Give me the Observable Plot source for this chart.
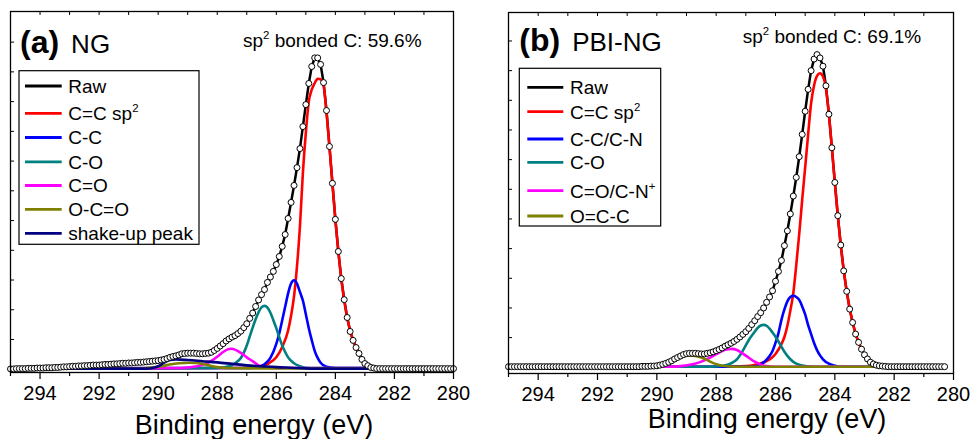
<!DOCTYPE html>
<html><head><meta charset="utf-8">
<script src="https://cdn.jsdelivr.net/npm/d3@7"></script>
<script src="https://cdn.jsdelivr.net/npm/@observablehq/plot@0.6"></script>
<style>
body{margin:0;background:#fff;}
#wrap{display:flex;width:973px;height:439px;overflow:hidden;background:#fff;}
svg text{font-family:"Liberation Sans",Arial,Helvetica,sans-serif;}
</style></head><body><div id="wrap"></div>
<script>
// ---------- shared ----------
const RAW_STEP = 0.1;
const xMajor = [294, 292, 290, 288, 286, 284, 282, 280];
const xMinor = [295, 293, 291, 289, 287, 285, 283, 281];
const xLabel = "Binding energy (eV)";

// ---------- panel (a) NG ----------
const ngTitle = ["(a)", "NG"];
const ngNote = "sp^2 bonded C: 59.6%";
const ngRawStart = 295.0;
const ngRaw = [
0.01,0.01,0.02,0.02,0.02,0.02,0.03,0.03,0.03,0.04,
0.04,0.04,0.05,0.05,0.05,0.06,0.06,0.07,0.08,0.08,
0.09,0.10,0.10,0.11,0.11,0.12,0.12,0.13,0.14,0.14,
0.14,0.15,0.16,0.16,0.17,0.18,0.18,0.19,0.20,0.20,
0.21,0.21,0.22,0.23,0.23,0.24,0.25,0.26,0.27,0.28,
0.29,0.31,0.33,0.36,0.40,0.43,0.45,0.48,0.52,0.53,
0.54,0.54,0.54,0.53,0.52,0.52,0.53,0.54,0.57,0.63,
0.70,0.78,0.86,0.95,1.02,1.08,1.13,1.20,1.28,1.40,
1.53,1.71,1.89,2.11,2.33,2.51,2.68,2.92,3.10,3.29,
3.52,3.79,4.13,4.53,5.07,5.61,6.18,6.78,7.42,8.16,
8.90,9.61,10.18,10.47,10.47,10.25,9.64,8.70,7.49,6.25,
5.04,3.96,3.05,2.34,1.74,1.27,0.97,0.73,0.53,0.33,
0.19,0.12,0.06,0.04,0.02,0.02,0.02,0.02,0.02,0.02,
0.02,0.02,0.02,0.02,0.02,0.02,0.02,0.02,0.02,0.02,
0.02,0.02,0.02,0.02,0.02,0.02,0.02,0.02,0.02,0.02,
0.02];
const ngSp2 = [[295,0.03],[290,0.03],[288,0.04],[287,0.05],[286.6,0.09],[286.3,0.18],[286.0,0.40],[285.8,0.75],[285.6,1.3],[285.5,1.8],[285.4,2.45],[285.3,3.45],[285.2,4.8],[285.1,6.6],[285.0,7.95],[284.9,9.0],[284.8,9.4],[284.7,9.62],[284.6,9.77],[284.5,9.75],[284.4,9.55],[284.3,8.62],[284.2,7.49],[284.0,5.04],[283.8,3.05],[283.6,1.74],[283.4,0.97],[283.2,0.53],[283.0,0.19],[282.8,0.06],[282.7,0.04]];
const ngCC = [[295,0.03],[287,0.04],[286.6,0.08],[286.4,0.17],[286.2,0.38],[286.0,0.85],[285.9,1.2],[285.8,1.65],[285.7,2.1],[285.6,2.55],[285.5,2.88],[285.4,2.99],[285.3,2.88],[285.2,2.6],[285.1,2.31],[285.0,1.85],[284.9,1.38],[284.8,0.98],[284.7,0.62],[284.6,0.38],[284.5,0.22],[284.3,0.08],[284.0,0.04],[282.7,0.04]];
const ngCO = [[295,0.03],[288,0.04],[287.6,0.1],[287.4,0.2],[287.2,0.38],[287.1,0.56],[287.0,0.8],[286.9,1.1],[286.8,1.4],[286.7,1.68],[286.6,1.92],[286.5,2.08],[286.4,2.13],[286.3,2.07],[286.2,1.9],[286.1,1.65],[286.0,1.38],[285.9,1.08],[285.8,0.8],[285.7,0.58],[285.6,0.4],[285.4,0.2],[285.2,0.1],[285.0,0.05],[284.6,0.04],[282.7,0.04]];
const ngCdO = [[295,0.02],[289.5,0.04],[289.0,0.06],[288.6,0.12],[288.4,0.18],[288.2,0.28],[288.0,0.42],[287.8,0.58],[287.6,0.68],[287.5,0.69],[287.4,0.66],[287.2,0.55],[287.0,0.4],[286.8,0.27],[286.6,0.13],[286.4,0.07],[286.0,0.04],[282.7,0.04]];
const ngOCO = [[295,0.02],[291,0.02],[290.5,0.03],[290.2,0.06],[289.9,0.10],[289.6,0.16],[289.3,0.2],[288.96,0.22],[288.7,0.21],[288.5,0.18],[288.2,0.11],[288.0,0.07],[287.7,0.04],[287.0,0.03],[282.7,0.03]];
const ngShake = [[295,0.02],[290.4,0.02],[290.2,0.04],[290.0,0.1],[289.8,0.22],[289.6,0.31],[289.4,0.33],[289.0,0.31],[288.5,0.27],[288.0,0.23],[287.5,0.18],[287.0,0.13],[286.5,0.1],[286.0,0.07],[285.5,0.05],[285.0,0.03],[284.5,0.02],[282.7,0.02]];
const ngNames = ["Raw", "C=C sp^2", "C-C", "C-O", "C=O", "O-C=O", "shake-up peak"];
const ngColors = ["#000000", "#ff0000", "#0000ff", "#008080", "#ff00ff", "#808000", "#000080"];

// ---------- panel (b) PBI-NG ----------
const pbiTitle = ["(b)", "PBI-NG"];
const pbiNote = "sp^2 bonded C: 69.1%";
const pbiRawStart = 295.0;
const pbiRaw = [
0.02,0.02,0.02,0.02,0.02,0.02,0.02,0.02,0.02,0.02,
0.02,0.02,0.02,0.02,0.02,0.02,0.02,0.02,0.02,0.02,
0.02,0.02,0.02,0.02,0.02,0.02,0.02,0.02,0.02,0.02,
0.02,0.02,0.02,0.02,0.02,0.02,0.02,0.02,0.02,0.02,
0.02,0.02,0.02,0.02,0.02,0.03,0.03,0.03,0.04,0.04,
0.05,0.07,0.10,0.13,0.17,0.22,0.28,0.33,0.38,0.43,
0.46,0.47,0.47,0.47,0.46,0.45,0.45,0.47,0.49,0.52,
0.56,0.60,0.65,0.71,0.76,0.81,0.87,0.94,1.02,1.11,
1.20,1.31,1.44,1.57,1.71,1.84,2.00,2.19,2.37,2.58,
2.90,3.23,3.60,4.10,4.60,5.17,5.77,6.40,7.10,7.85,
8.63,9.37,10.00,10.39,10.54,10.43,10.15,9.49,8.53,7.40,
6.23,5.11,4.12,3.25,2.56,1.96,1.51,1.12,0.84,0.61,
0.42,0.28,0.17,0.11,0.07,0.05,0.04,0.03,0.02,0.02,
0.02,0.02,0.02,0.02,0.02,0.02,0.02,0.02,0.02,0.02,
0.02,0.02,0.02,0.02,0.02,0.02,0.02,0.02];
const pbiSp2 = [[290,0.02],[288,0.02],[287.2,0.03],[286.8,0.06],[286.4,0.16],[286.2,0.26],[286.0,0.45],[285.8,0.78],[285.7,1.02],[285.6,1.4],[285.5,1.91],[285.4,2.5],[285.3,3.45],[285.2,4.5],[285.1,5.65],[285.0,6.74],[284.9,7.85],[284.8,8.9],[284.7,9.5],[284.6,9.82],[284.5,9.91],[284.4,9.8],[284.3,9.4],[284.2,8.53],[284.1,7.40],[284.0,6.23],[283.8,4.12],[283.6,2.56],[283.4,1.51],[283.2,0.84],[283.0,0.42],[282.8,0.17],[282.6,0.07],[282.5,0.04]];
const pbiCC = [[290,0.02],[286.8,0.02],[286.5,0.1],[286.3,0.26],[286.2,0.38],[286.1,0.55],[286.0,0.82],[285.9,1.15],[285.8,1.6],[285.7,1.95],[285.6,2.22],[285.5,2.37],[285.4,2.41],[285.3,2.37],[285.2,2.27],[285.1,2.05],[285.0,1.78],[284.9,1.42],[284.8,1.12],[284.7,0.82],[284.6,0.58],[284.5,0.4],[284.4,0.27],[284.2,0.12],[284.0,0.05],[283.8,0.02],[282.5,0.02]];
const pbiCO = [[290,0.02],[288.2,0.02],[287.8,0.05],[287.5,0.13],[287.3,0.27],[287.1,0.56],[286.9,0.92],[286.7,1.2],[286.6,1.33],[286.5,1.41],[286.4,1.43],[286.3,1.4],[286.2,1.3],[286.1,1.17],[286.0,1.03],[285.9,0.87],[285.7,0.52],[285.5,0.27],[285.3,0.12],[285.0,0.04],[284.7,0.02],[282.5,0.02]];
const pbiCdO = [[290,0.02],[289.6,0.02],[289.2,0.04],[288.8,0.1],[288.5,0.19],[288.2,0.33],[288.0,0.44],[287.8,0.55],[287.6,0.61],[287.47,0.62],[287.3,0.58],[287.1,0.46],[286.9,0.32],[286.7,0.19],[286.5,0.09],[286.3,0.04],[286.0,0.02],[282.5,0.02]];
const pbiOCC = [[290,0.02],[289.7,0.08],[289.4,0.22],[289.1,0.36],[288.9,0.4],[288.7,0.38],[288.5,0.33],[288.3,0.24],[288.1,0.14],[287.9,0.08],[287.7,0.04],[287.4,0.02],[282.5,0.02]];
const pbiNames = ["Raw", "C=C sp^2", "C-C/C-N", "C-O", "C=O/C-N^+", "O=C-C"];
const pbiColors = ["#000000", "#ff0000", "#0000ff", "#008080", "#ff00ff", "#808000"];

// ---------- drawing ----------
function richText(g, x, y, str, size) {
  const t = g.append("text").attr("x", x).attr("y", y).attr("font-size", size)
    .attr("fill", "#000").attr("text-anchor", "start");
  const parts = str.split("^");
  t.append("tspan").text(parts[0]);
  if (parts.length > 1) {
    t.append("tspan").attr("dy", -size * 0.42).attr("font-size", size * 0.6).text(parts[1][0]);
    if (parts[1].length > 1) t.append("tspan").attr("dy", size * 0.42).text(parts[1].slice(1));
  }
  return t;
}

function drawPanel(o) {
  const H = 439;
  const innerH = H - o.mt - o.mb;
  const innerW = o.width - o.ml - o.mr;
  const yPerPx = (o.yDomain[1] - o.yDomain[0]) / innerH;
  const xPerPx = 15 / innerW;
  const raw = o.raw.map((v, i) => ({E: Math.round((o.rawStart - i * RAW_STEP) * 10) / 10, I: v}));
  const topTicks = xMajor.concat(xMinor).filter(d => d > 280 && d < 295);
  const comps = o.comps.map((pts, i) => ({pts, color: o.colors[i + 1]}));
  const marks = [
    Plot.ruleY(o.yTicks, {y: d => d, x1: 295, x2: 295 - 4 * xPerPx, stroke: "#000", strokeWidth: 1}),
    Plot.ruleX(topTicks, {x: d => d, y1: o.yDomain[1], y2: o.yDomain[1] - 4 * yPerPx, stroke: "#000", strokeWidth: 1}),
    Plot.axisX({ticks: xMajor, tickSize: 7, tickPadding: 6, fontSize: 20, tickFormat: d => String(d), label: null, stroke: "#000", strokeWidth: 1.2}),
    Plot.axisX({ticks: xMinor, tickSize: 4, text: null, label: null, stroke: "#000", strokeWidth: 1.2}),
    Plot.line(raw, {x: "E", y: "I", stroke: "#000", strokeWidth: 2.5}),
    ...comps.map(c => Plot.line(c.pts, {x: d => d[0], y: d => d[1], stroke: c.color, strokeWidth: 2.6, curve: "monotone-x"})),
    Plot.dot(raw, {x: "E", y: "I", r: 3, fill: "#fff", stroke: "#000", strokeWidth: 1}),
    Plot.frame({stroke: "#000", strokeWidth: 1.3}),
    Plot.text([xLabel], {frameAnchor: "bottom", lineAnchor: "middle", dx: o.labelDx, dy: o.labelDy, fontSize: 27, text: d => d, fill: "#000"})
  ];
  const svg = Plot.plot({
    width: o.width, height: H,
    marginTop: o.mt, marginBottom: o.mb, marginLeft: o.ml, marginRight: o.mr,
    x: {domain: [295, 280], axis: null},
    y: {domain: o.yDomain, axis: null},
    style: {fontFamily: "Liberation Sans, Arial, sans-serif", background: "#fff", color: "#000", overflow: "visible"},
    marks
  });
  const s = d3.select(svg);
  // panel title
  const tt = s.append("text").attr("x", o.title.x).attr("y", o.title.y).attr("fill", "#000").attr("text-anchor", "start");
  tt.append("tspan").attr("font-size", 32).attr("font-weight", "bold").text(o.title.text[0]);
  tt.append("tspan").attr("font-size", 26).attr("dx", 12).text(o.title.text[1]);
  // note
  richText(s, o.note.x, o.note.y, o.note.text, 19);
  // legend
  const L = o.legend;
  const g = s.append("g");
  g.append("rect").attr("x", L.x).attr("y", L.y).attr("width", L.w).attr("height", L.h)
    .attr("fill", "#fff").attr("stroke", "#000").attr("stroke-width", 1.2);
  o.names.forEach((name, i) => {
    const yy = L.rows[i];
    g.append("line").attr("x1", L.lx1).attr("x2", L.lx2).attr("y1", yy).attr("y2", yy)
      .attr("stroke", o.colors[i]).attr("stroke-width", 2.8);
    richText(g, L.tx, yy + 6.8, name, 19);
  });
  document.getElementById("wrap").appendChild(svg);
}

drawPanel({
  width: 487, mt: 11, mb: 67, ml: 10, mr: 34,
  yDomain: [-0.11, 12.03], yTicks: d3.range(0, 12),
  raw: ngRaw, rawStart: ngRawStart,
  comps: [ngSp2, ngCC, ngCO, ngCdO, ngOCO, ngShake],
  colors: ngColors, names: ngNames,
  labelDx: 22, labelDy: 53,
  title: {x: 20, y: 52.5, text: ngTitle},
  note: {x: 243, y: 46.7, text: ngNote},
  legend: {x: 19, y: 70.7, w: 180, h: 173.6, lx1: 25, lx2: 61.7, tx: 68.3,
           rows: [86, 113.3, 137.5, 161.8, 185.5, 209.3, 233.3]}
});

drawPanel({
  width: 486, mt: 12, mb: 66, ml: 21, mr: 20,
  yDomain: [-0.21, 11.96], yTicks: d3.range(0, 12),
  raw: pbiRaw, rawStart: pbiRawStart,
  comps: [pbiSp2, pbiCC, pbiCO, pbiCdO, pbiOCC],
  colors: pbiColors, names: pbiNames,
  labelDx: 36, labelDy: 45.5,
  title: {x: 32.3, y: 51, text: pbiTitle},
  note: {x: 255.7, y: 43.3, text: pbiNote},
  legend: {x: 32.3, y: 68.3, w: 141.4, h: 157.7, lx1: 40.3, lx2: 76.3, tx: 83,
           rows: [87.3, 111.7, 139, 162.3, 190.7, 216]}
});
</script></body></html>
